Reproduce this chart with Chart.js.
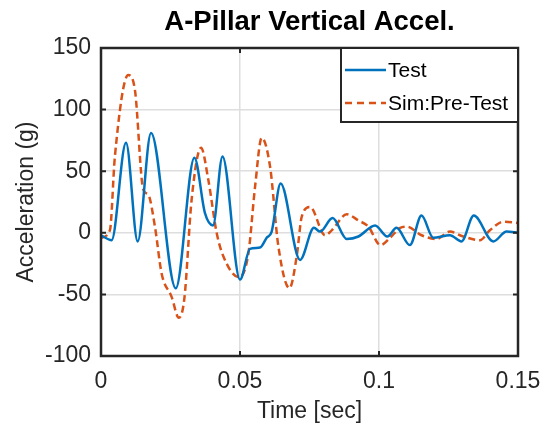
<!DOCTYPE html>
<html>
<head>
<meta charset="utf-8">
<script src="https://cdn.jsdelivr.net/npm/chart.js@4/dist/chart.umd.min.js"></script>
<style>
  html, body { margin: 0; padding: 0; background: #fff; }
  #wrap { width: 543px; height: 425px; }
</style>
</head>
<body>
<div id="wrap"><canvas id="accel" width="543" height="425"></canvas></div>
<script>
// Test curve (time in s, acceleration in g)
const testTime = [0, 0.0038, 0.009, 0.0132, 0.018, 0.0269, 0.0336, 0.0374, 0.0403, 0.0437,
    0.05, 0.0536, 0.0572, 0.0596, 0.0614, 0.0646, 0.0716, 0.0766, 0.0788, 0.0833,
    0.0884, 0.0926, 0.0986, 0.103, 0.1063, 0.1111, 0.1153, 0.1195, 0.1255, 0.1297,
    0.1341, 0.1411, 0.1459, 0.15];
const testAccel = [-2, -6, 73, -7, 81, -45, 61, 16, 6, 62,
    -38, -13, -12, -4, 1, 40, -22, 4, 1, 12,
    -5, -3, 6, -3, 4, -10, 14, -4, -2, -7,
    14, -7, 1, 0];

// Pre-test simulation
const simTime = [0, 0.0032, 0.005, 0.0098, 0.0122, 0.0152, 0.017, 0.0194, 0.0218, 0.0254,
    0.028, 0.030, 0.0326, 0.036, 0.0386, 0.0416, 0.044, 0.0496, 0.053, 0.0554,
    0.0578, 0.0608, 0.0638, 0.0678, 0.0704, 0.0722, 0.0752, 0.0806, 0.083, 0.0884,
    0.0926, 0.0962, 0.1005, 0.104, 0.1076, 0.11, 0.1153, 0.1207, 0.1255, 0.1303,
    0.1363, 0.1399, 0.1447, 0.15];
const simAccel = [-4, 2, 62, 128, 116, 35, 31, 5, -33, -52,
    -69, -53, 27, 69, 43, 0, -19, -36, -17, 37,
    77, 54, -11, -45, -19, 13, 21, -2, 2, 15,
    10, 5, -10, -4, 4, 5, -2, -5, 1, -3,
    -6, 2, 9, 8];

const seriesNames = ['Test', 'Sim:Pre-Test'];
const xTicks = [0, 0.05, 0.1, 0.15];
const yTicks = [-100, -50, 0, 50, 100, 150];

const blue = '#0072BD';
const orange = '#D95319';
const ink = '#262626';
const font = '"Liberation Sans", Arial, sans-serif';

// MATLAB-style box, inward ticks and the legend inside the axes
const boxPlugin = {
    id: 'box',
    afterDatasetsDraw(chart) {
        const { ctx, chartArea: a, scales } = chart;
        ctx.save();
        ctx.strokeStyle = ink;
        ctx.lineWidth = 2.5;
        ctx.strokeRect(a.left, a.top, a.right - a.left, a.bottom - a.top);
        ctx.lineWidth = 2;
        ctx.beginPath();
        xTicks.forEach(v => {
            const px = scales.x.getPixelForValue(v);
            ctx.moveTo(px, a.bottom); ctx.lineTo(px, a.bottom - 5);
            ctx.moveTo(px, a.top); ctx.lineTo(px, a.top + 5);
        });
        yTicks.forEach(v => {
            const py = scales.y.getPixelForValue(v);
            ctx.moveTo(a.left, py); ctx.lineTo(a.left + 5, py);
            ctx.moveTo(a.right, py); ctx.lineTo(a.right - 5, py);
        });
        ctx.stroke();

        // legend
        const lx = 341, ly = a.top, lw = a.right - 341, lh = 74;
        ctx.fillStyle = '#fff';
        ctx.fillRect(lx, ly, lw, lh);
        ctx.lineWidth = 2;
        ctx.strokeRect(lx, ly, lw, lh);
        const rows = [ly + 22, ly + 55];
        const colors = [blue, orange];
        rows.forEach((ry, i) => {
            ctx.strokeStyle = colors[i];
            ctx.lineWidth = 2.5;
            ctx.setLineDash(i === 1 ? [7, 5] : []);
            ctx.beginPath();
            ctx.moveTo(345, ry); ctx.lineTo(386, ry);
            ctx.stroke();
            ctx.setLineDash([]);
            ctx.fillStyle = '#000';
            ctx.font = '21px ' + font;
            ctx.textBaseline = 'middle';
            ctx.textAlign = 'left';
            ctx.fillText(seriesNames[i], 388, ry + 1);
        });
        ctx.restore();
    }
};

new Chart(document.getElementById('accel'), {
    type: 'line',
    data: {
        datasets: [
            {
                label: seriesNames[0],
                data: testTime.map((t, i) => ({ x: t, y: testAccel[i] })),
                borderColor: blue,
                borderWidth: 2.5,
                pointRadius: 0,
                cubicInterpolationMode: 'monotone'
            },
            {
                label: seriesNames[1],
                data: simTime.map((t, i) => ({ x: t, y: simAccel[i] })),
                borderColor: orange,
                borderWidth: 2.5,
                borderDash: [7, 4],
                pointRadius: 0,
                cubicInterpolationMode: 'monotone'
            }
        ]
    },
    options: {
        responsive: false,
        animation: false,
        layout: { padding: { left: 0, right: 25, top: 0, bottom: 0 } },
        plugins: {
            legend: { display: false },
            tooltip: { enabled: false },
            title: {
                display: true,
                text: 'A-Pillar Vertical Accel.',
                fullSize: false,
                color: '#000',
                font: { family: font, size: 27.5, weight: 'bold', lineHeight: 1.2 },
                padding: { top: 6, bottom: 9 }
            }
        },
        scales: {
            x: {
                type: 'linear',
                min: 0,
                max: 0.15,
                afterBuildTicks: s => { s.ticks = xTicks.map(v => ({ value: v })); },
                afterFit: s => { s.height = 69; s.paddingLeft = 0; s.paddingRight = 0; },
                grid: { color: '#dedede', lineWidth: 1.5, drawTicks: false },
                border: { display: false },
                ticks: {
                    padding: 12,
                    maxRotation: 0,
                    autoSkip: false,
                    color: ink,
                    font: { family: font, size: 23 },
                    callback: v => String(+v.toFixed(2))
                },
                title: {
                    display: true,
                    text: 'Time [sec]',
                    color: ink,
                    font: { family: font, size: 23, lineHeight: 1.2 },
                    padding: { top: 0, bottom: 0 }
                }
            },
            y: {
                min: -100,
                max: 150,
                afterBuildTicks: s => { s.ticks = yTicks.map(v => ({ value: v })); },
                afterFit: s => { s.width = 101; s.paddingTop = 0; s.paddingBottom = 0; },
                grid: { color: '#dedede', lineWidth: 1.5, drawTicks: false },
                border: { display: false },
                ticks: {
                    padding: 10,
                    autoSkip: false,
                    color: ink,
                    font: { family: font, size: 23 }
                },
                title: {
                    display: true,
                    text: 'Acceleration (g)',
                    color: ink,
                    font: { family: font, size: 23, lineHeight: 1.2 },
                    padding: { top: 13, bottom: 0 }
                }
            }
        }
    },
    plugins: [boxPlugin]
});
</script>
</body>
</html>
